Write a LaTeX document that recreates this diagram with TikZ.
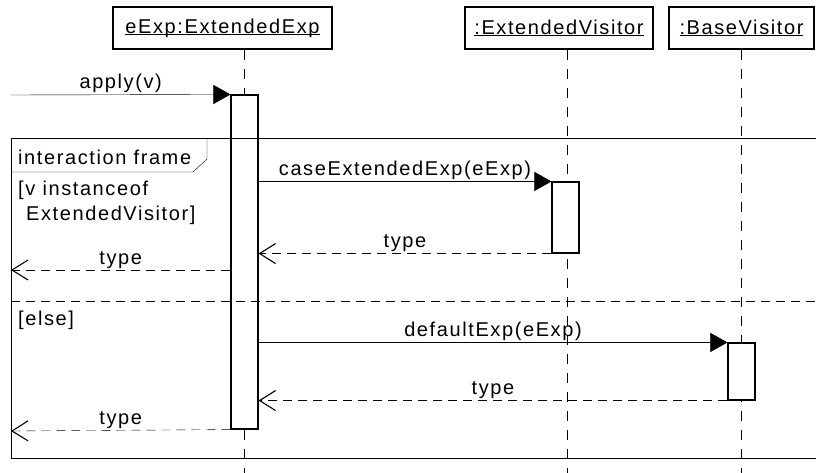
\documentclass[tikz,border=0pt]{standalone}
\usepackage{fontspec}
\setmainfont{Liberation Sans}[LetterSpace=8]
\usetikzlibrary{arrows.meta,backgrounds}

% underlined object name, rule close to the baseline
\newcommand\objlabel[1]{\setbox0=\hbox{#1}\rlap{\rule[-1.6pt]{\wd0}{0.9pt}}\box0}

\begin{document}
\begin{tikzpicture}[x=1pt,y=-1pt,line width=1.1pt,
  every node/.style={font=\fontsize{20}{25}\selectfont,text=black},
  objbox/.style={draw,fill=white,minimum width=#1,minimum height=42pt,inner sep=0pt},
  actbar/.style={draw,fill=white,minimum width=27pt,inner sep=0pt},
  lifeline/.style={dash pattern=on 10pt off 9pt},
  call/.style={-{Triangle[length=17pt,width=19pt]}},
  reply/.style={dash pattern=on 9pt off 6pt,-{Straight Barb[length=16pt,width=20pt,line width=1.1pt]}},
  msg/.style={anchor=base,yshift=6pt,inner sep=0pt}]
\useasboundingbox (0,0) rectangle (816,473);
\clip (0,0) rectangle (816,473);

% objects
\node[objbox=219pt] (obj1) at (222.5,28) {\objlabel{eExp:ExtendedExp}};
\node[objbox=188pt] (obj2) at (559,28) {\objlabel{:ExtendedVisitor}};
\node[objbox=145pt] (obj3) at (741.5,28) {\objlabel{:BaseVisitor}};

% activation bars
\node[actbar,minimum height=334pt] (act1) at (244.5,262) {};
\node[actbar,minimum height=71pt] (act2) at (565.5,217.5) {};
\node[actbar,minimum height=57pt] (act3) at (741.5,371.5) {};

% paper and lifelines, behind everything else
\begin{pgfonlayer}{background}
  \fill[white] (0,0) rectangle (816,473);
  \draw[lifeline] (act1.north |- obj1.south) -- (act1.north |- 0,480);
  \draw[lifeline] ([xshift=1.5pt]act2.north |- obj2.south) -- ([xshift=1.5pt]act2.north |- 0,480);
  \draw[lifeline] (act3.north |- obj3.south) -- (act3.north |- 0,480);
\end{pgfonlayer}

% combined fragment
\draw (11,138) rectangle (840,458);
\draw (11,172) -- (193,172) -- (207,159) -- (207,138);
\node[anchor=base west,inner sep=0pt] (fname) at (18,165) {interaction frame};
\node[anchor=north west,inner sep=0pt,align=left] (guard1) at (18,181) {[v instanceof\\\hspace*{0.4em}ExtendedVisitor]};
\draw[dash pattern=on 9pt off 6pt] (11,301) -- (840,301);
\node[anchor=base west,inner sep=0pt] (guard2) at (18,325) {[else]};

% gates on the frame border
\coordinate (in)   at (11,95);
\coordinate (out1) at (11,270);
\coordinate (out2) at (11,431);

% messages
\draw[call] (in) -- (act1.north west) node[msg,pos=0.5] {apply(v)};
\draw[call] (act2.north west -| act1.east) -- (act2.north west) node[msg,pos=0.5] {caseExtendedExp(eExp)};
\draw[reply] (act2.south west) -- (act2.south west -| act1.east) node[msg,pos=0.5] {type};
\draw[reply] (act1.west |- out1) -- (out1) node[msg,pos=0.5] {type};
\draw[call] (act3.north west -| act1.east) -- (act3.north west) node[msg,pos=0.5] {defaultExp(eExp)};
\draw[reply] (act3.south west) -- (act3.south west -| act1.east) node[msg,pos=0.5] {type};
\draw[reply] (act1.south west) -- (out2) node[msg,pos=0.5] {type};
\end{tikzpicture}
\end{document}
